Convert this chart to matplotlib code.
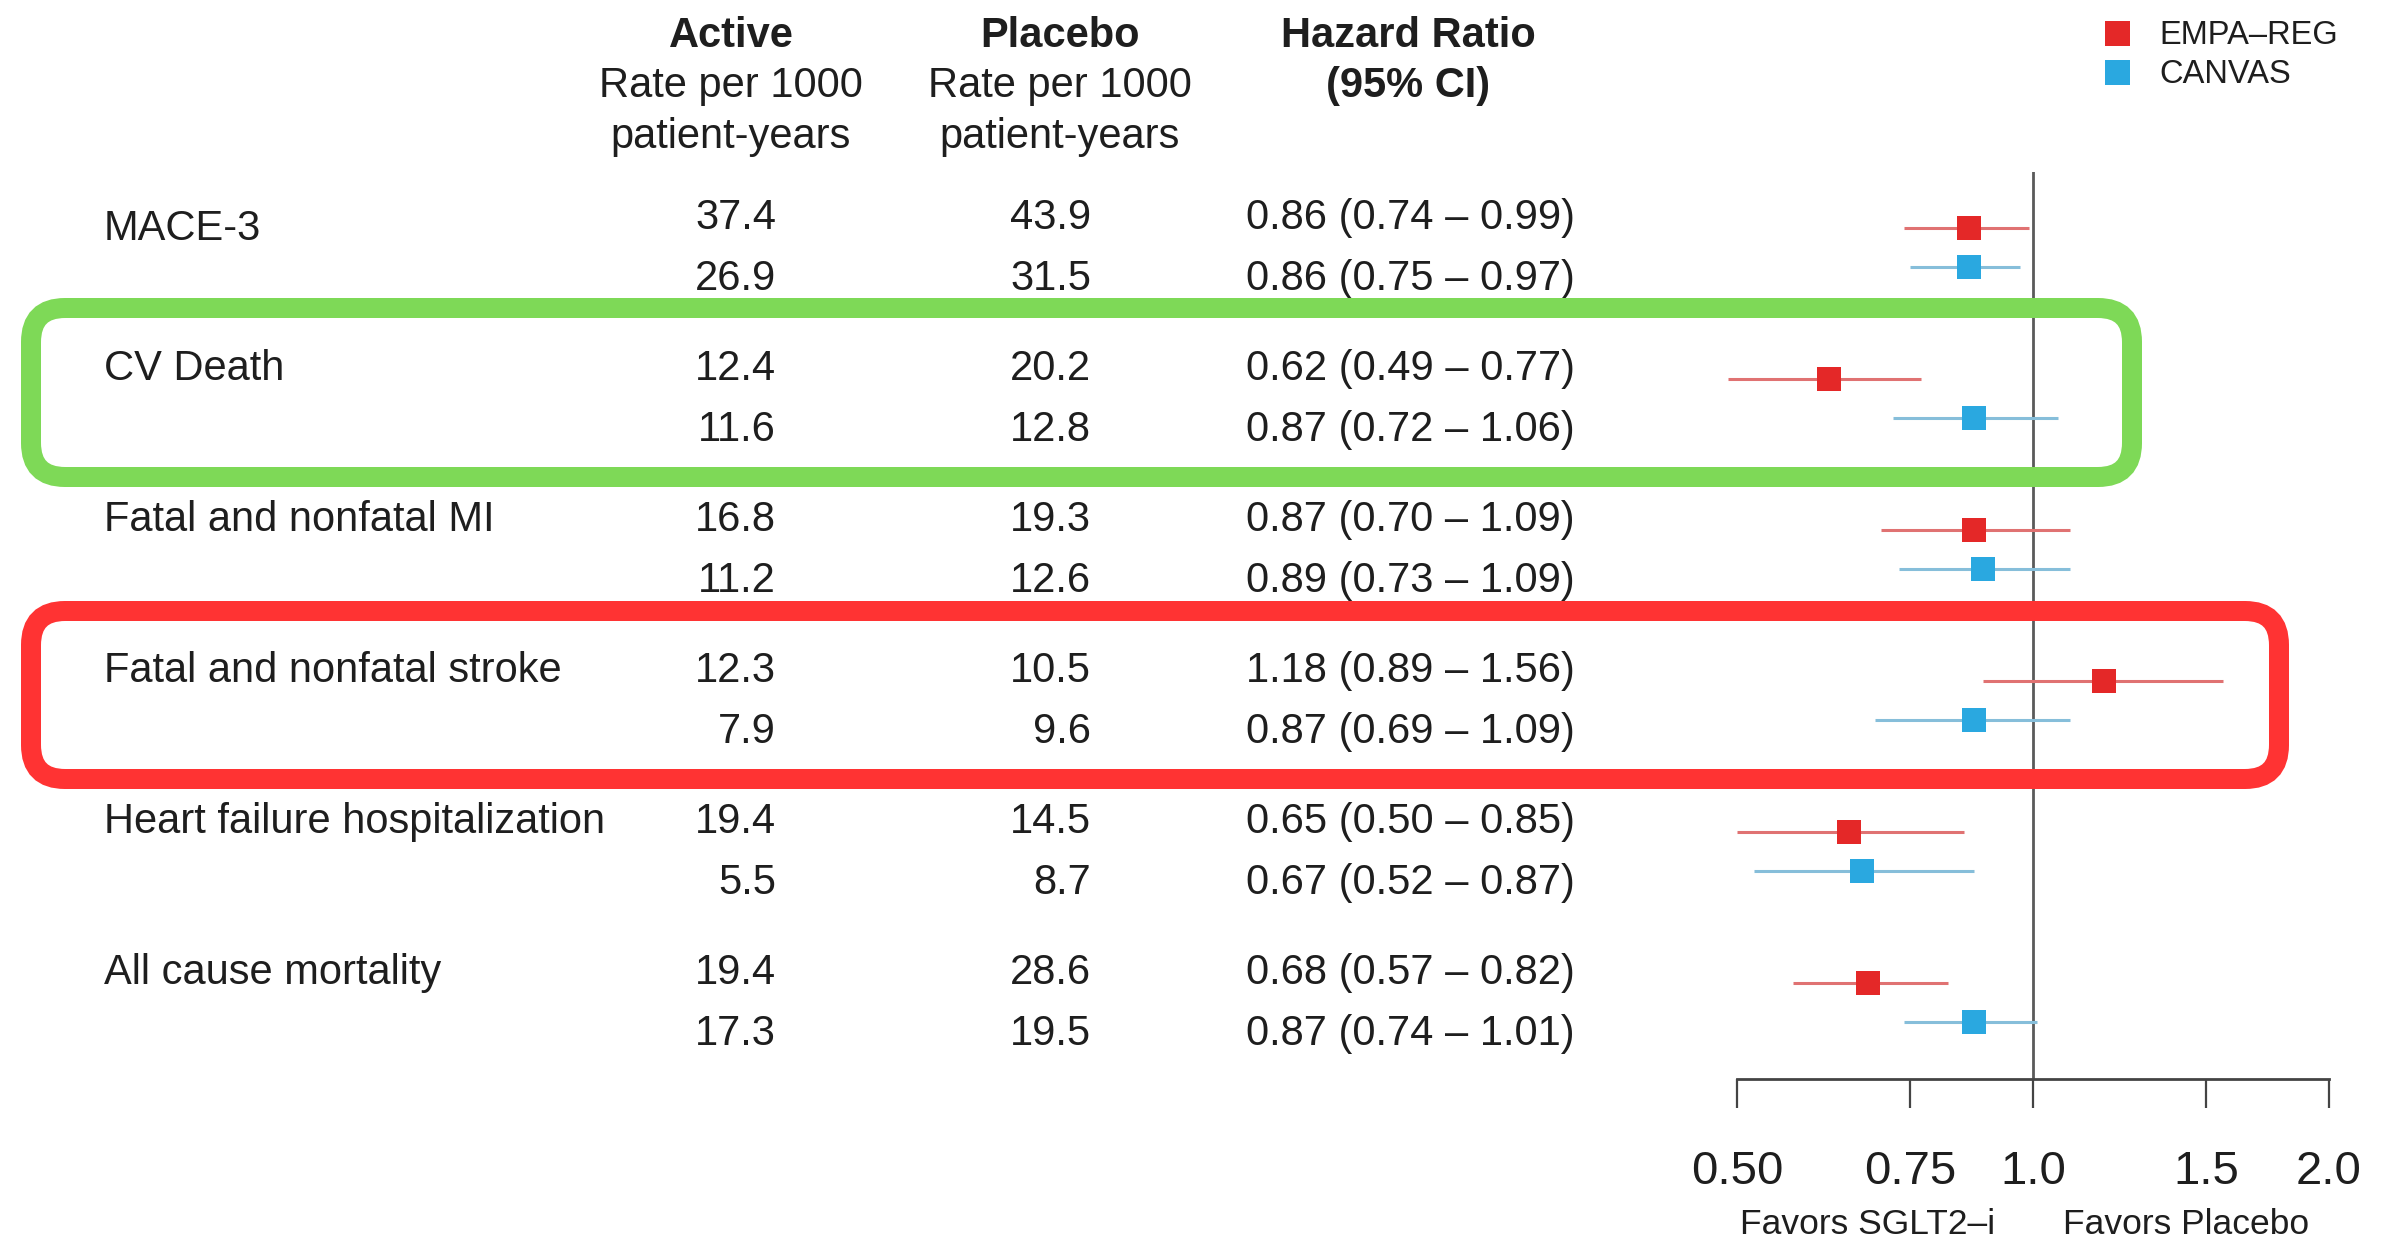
import numpy as np
import matplotlib.pyplot as plt
import matplotlib.transforms as mtransforms
from matplotlib.lines import Line2D
from matplotlib.patches import FancyBboxPatch
from matplotlib.ticker import NullLocator

plt.rcParams["font.family"] = ["Liberation Sans", "DejaVu Sans"]

# outcomes, one pair of rows (EMPA-REG, CANVAS) per outcome
outcomes = [
    "MACE-3",
    "CV Death",
    "Fatal and nonfatal MI",
    "Fatal and nonfatal stroke",
    "Heart failure hospitalization",
    "All cause mortality",
]
trials = ["EMPA\u2013REG", "CANVAS"]

empa_active = [37.4, 12.4, 16.8, 12.3, 19.4, 19.4]
empa_placebo = [43.9, 20.2, 19.3, 10.5, 14.5, 28.6]
empa_hr = [0.86, 0.62, 0.87, 1.18, 0.65, 0.68]
empa_lo = [0.74, 0.49, 0.70, 0.89, 0.50, 0.57]
empa_hi = [0.99, 0.77, 1.09, 1.56, 0.85, 0.82]

canvas_active = [26.9, 11.6, 11.2, 7.9, 5.5, 17.3]
canvas_placebo = [31.5, 12.8, 12.6, 9.6, 8.7, 19.5]
canvas_hr = [0.86, 0.87, 0.89, 0.87, 0.67, 0.87]
canvas_lo = [0.75, 0.72, 0.73, 0.69, 0.52, 0.74]
canvas_hi = [0.97, 1.06, 1.09, 1.09, 0.87, 1.01]

xticks = [0.50, 0.75, 1.0, 1.5, 2.0]
xtick_labels = ["0.50", "0.75", "1.0", "1.5", "2.0"]

RED = "#E42828"
BLUE = "#2AA8E0"
RED_LINE = "#E07272"
BLUE_LINE = "#86BEDA"
TEXT = "#1E1E1E"

W, H = 2382, 1243
fig = plt.figure(figsize=(W / 100, H / 100), dpi=100)

# forest panel, log scale hazard ratio
ax = fig.add_axes([0.72191, 1 - 1079 / H, 0.26457, (1079 - 172) / H])
ax.set_xscale("log")
ax.set_xlim(0.48, 2.1)
ax.set_ylim(5.636, -0.371)

g = np.arange(len(outcomes))
y_empa = g
y_canvas = g + 0.258

ax.axvline(1.0, color="#5A5A5A", lw=2.0, zorder=1)
ax.hlines(y_empa, empa_lo, empa_hi, color=RED_LINE, lw=2.2, zorder=2)
ax.hlines(y_canvas, canvas_lo, canvas_hi, color=BLUE_LINE, lw=2.2, zorder=2)
ax.plot(empa_hr, y_empa, "s", color=RED, ms=17.3, mew=0, zorder=3)
ax.plot(canvas_hr, y_canvas, "s", color=BLUE, ms=17.3, mew=0, zorder=3)

for side in ["left", "right", "top"]:
    ax.spines[side].set_visible(False)
ax.spines["bottom"].set_bounds(0.5, 2.0)
ax.spines["bottom"].set_linewidth(2.0)
ax.spines["bottom"].set_color("#444444")
ax.set_yticks([])
ax.set_xticks(xticks)
ax.set_xticklabels(xtick_labels)
ax.xaxis.set_minor_locator(NullLocator())
ax.tick_params(axis="x", direction="out", length=21, width=1.6, color="#444444",
               pad=30, labelsize=34, labelcolor=TEXT)

fig.text(1868 / W, 1 - 1234 / H, "Favors SGLT2\u2013i", ha="center", va="baseline",
         fontsize=25.5, color=TEXT)
fig.text(2186 / W, 1 - 1234 / H, "Favors Placebo", ha="center", va="baseline",
         fontsize=25.5, color=TEXT)

# table columns, x in figure fraction, y in the forest panel's rows
trans = mtransforms.blended_transform_factory(fig.transFigure, ax.transData)
row1 = g + 0.007
row2 = g + 0.41
label_rows = row1 + np.array([0.07, 0, 0, 0, 0, 0])
fs = 30

for i, name in enumerate(outcomes):
    ax.text(104 / W, label_rows[i], name, transform=trans, ha="left", va="baseline",
            fontsize=fs, color=TEXT)
    ax.text(776 / W, row1[i], f"{empa_active[i]:.1f}", transform=trans, ha="right",
            va="baseline", fontsize=fs, color=TEXT)
    ax.text(776 / W, row2[i], f"{canvas_active[i]:.1f}", transform=trans, ha="right",
            va="baseline", fontsize=fs, color=TEXT)
    ax.text(1091 / W, row1[i], f"{empa_placebo[i]:.1f}", transform=trans, ha="right",
            va="baseline", fontsize=fs, color=TEXT)
    ax.text(1091 / W, row2[i], f"{canvas_placebo[i]:.1f}", transform=trans, ha="right",
            va="baseline", fontsize=fs, color=TEXT)
    ax.text(1410 / W, row1[i],
            f"{empa_hr[i]:.2f} ({empa_lo[i]:.2f} \u2013 {empa_hi[i]:.2f})",
            transform=trans, ha="center", va="baseline", fontsize=fs, color=TEXT)
    ax.text(1410 / W, row2[i],
            f"{canvas_hr[i]:.2f} ({canvas_lo[i]:.2f} \u2013 {canvas_hi[i]:.2f})",
            transform=trans, ha="center", va="baseline", fontsize=fs, color=TEXT)

# column headers
headers = [
    (731, ["Active", "Rate per 1000", "patient-years"]),
    (1060, ["Placebo", "Rate per 1000", "patient-years"]),
    (1408, ["Hazard Ratio", "(95% CI)"]),
]
header_base = [47, 97, 148]
for xc, lines in headers:
    for k, line in enumerate(lines):
        fig.text(xc / W, 1 - header_base[k] / H, line, ha="center", va="baseline",
                 fontsize=fs, color=TEXT,
                 fontweight="bold" if k == 0 or line.startswith("(") else "normal")

# legend
handles = [
    Line2D([], [], marker="s", ls="none", color=RED, ms=18, mew=0),
    Line2D([], [], marker="s", ls="none", color=BLUE, ms=18, mew=0),
]
fig.legend(handles, trials, loc="upper left", bbox_to_anchor=(2101 / W, 1 - 20 / H),
           frameon=False, fontsize=23.5, borderpad=0, borderaxespad=0,
           handlelength=1.0, handletextpad=0.8, labelspacing=0.25,
           labelcolor=TEXT)

# highlight boxes, drawn in pixel units from the top-left corner
px = mtransforms.Affine2D().scale(1 / W, -1 / H).translate(0, 1) + fig.transFigure
green = FancyBboxPatch((31, 308), 2101, 169, boxstyle="round,pad=0,rounding_size=34",
                       fill=False, ec="#7ED957", lw=14.4, transform=px, zorder=5)
red = FancyBboxPatch((31, 611), 2248, 168, boxstyle="round,pad=0,rounding_size=34",
                     fill=False, ec="#FF3333", lw=14.4, transform=px, zorder=5)
fig.add_artist(green)
fig.add_artist(red)

fig.savefig("out.png", dpi=100)
